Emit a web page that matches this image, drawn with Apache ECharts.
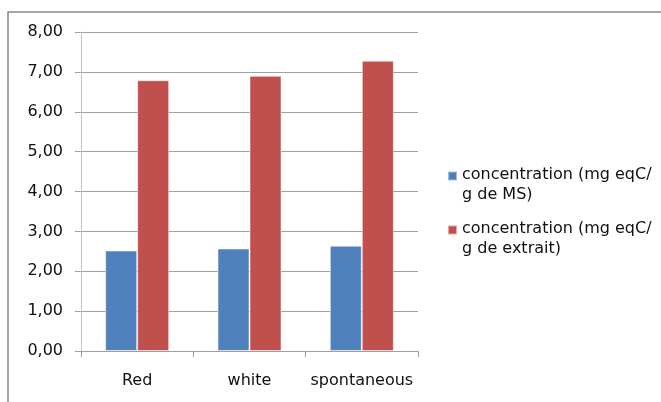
<!DOCTYPE html>
<html>
<head>
<meta charset="utf-8">
<script src="https://cdn.jsdelivr.net/npm/echarts@6/dist/echarts.min.js"></script>
<style>
  html, body { margin: 0; padding: 0; background: #ffffff; }
  #chart { width: 661px; height: 402px; }
</style>
</head>
<body>
<div id="chart"></div>
<script>
// Sample types on the x axis
const categories = ['Red', 'white', 'spontaneous'];
// Concentration per gram of dry matter (MS)
const perDryMatter = [2.52, 2.57, 2.64];
// Concentration per gram of extract
const perExtract = [6.79, 6.90, 7.28];
// Series names shown in the legend
const seriesNames = ['concentration (mg eqC/\ng de MS)', 'concentration (mg eqC/\ng de extrait)'];

const FONT = '"DejaVu Sans", Verdana, sans-serif';
// Square legend swatch sitting at the top of a taller box, so it lines up with the first text line
const SWATCH = 'path://M0,0h10v10h-10z M0,30';

const chart = echarts.init(document.getElementById('chart'), null, { renderer: 'canvas' });

chart.setOption({
  animation: false,
  backgroundColor: '#ffffff',
  graphic: [{
    type: 'rect',
    shape: { x: 8, y: 12, width: 720, height: 460 },
    style: { fill: 'none', stroke: '#888888', lineWidth: 1.5 },
    silent: true,
    z: 0
  }],
  grid: { left: 81, right: 243, top: 32, bottom: 51 },
  legend: {
    orient: 'vertical',
    left: 447,
    top: 165,
    padding: 0,
    itemWidth: 9,
    itemHeight: 27,
    itemGap: 14,
    icon: SWATCH,
    textStyle: {
      fontFamily: FONT,
      fontSize: 16,
      color: '#111111',
      lineHeight: 20
    },
    data: seriesNames
  },
  xAxis: {
    type: 'category',
    data: categories,
    axisLine: { lineStyle: { color: '#a0a0a0', width: 1 } },
    axisTick: { show: true, length: 6, alignWithLabel: false, lineStyle: { color: '#a0a0a0' } },
    axisLabel: { interval: 0, fontFamily: FONT, fontSize: 16, color: '#111111', margin: 22 }
  },
  yAxis: {
    type: 'value',
    min: 0,
    max: 8,
    interval: 1,
    axisLine: { show: true, lineStyle: { color: '#c4c4c4', width: 1 } },
    axisTick: { show: true, length: 6, inside: false, lineStyle: { color: '#a0a0a0' } },
    axisLabel: {
      fontFamily: FONT,
      fontSize: 16,
      color: '#111111',
      margin: 18,
      formatter: v => v.toFixed(2).replace('.', ',')
    },
    splitLine: { lineStyle: { color: '#a0a0a0', width: 1 } }
  },
  series: [
    {
      name: seriesNames[0],
      type: 'bar',
      data: perDryMatter,
      barGap: '0%',
      barCategoryGap: '43%',
      itemStyle: { color: '#4f81bd', borderColor: 'rgba(255,255,255,0.5)', borderWidth: 1 }
    },
    {
      name: seriesNames[1],
      type: 'bar',
      data: perExtract,
      barGap: '0%',
      barCategoryGap: '43%',
      itemStyle: { color: '#c0504d', borderColor: 'rgba(255,255,255,0.5)', borderWidth: 1 }
    }
  ]
});
</script>
</body>
</html>
